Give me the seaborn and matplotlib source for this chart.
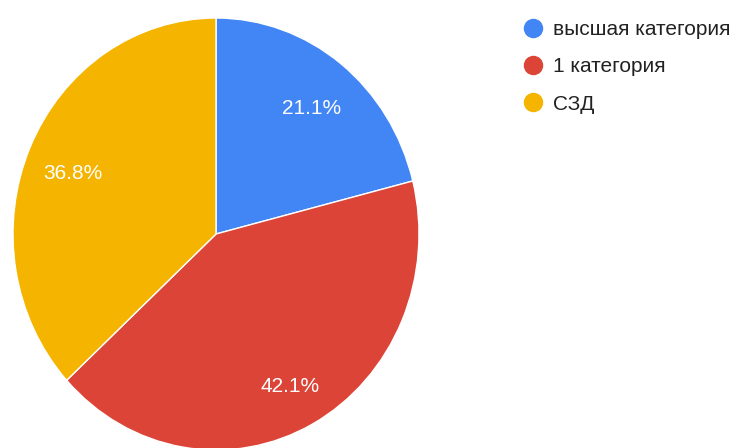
import matplotlib
matplotlib.use("Agg")
import matplotlib.pyplot as plt
from matplotlib.lines import Line2D
import seaborn as sns

# data
categories = ["высшая категория", "1 категория", "СЗД"]
counts = [4, 8, 7]
colors = ["#4285F4", "#DB4437", "#F4B400"]

sns.set_theme(style="white")
plt.rcParams["font.family"] = ["Liberation Sans", "DejaVu Sans"]

fig = plt.figure(figsize=(7.41, 4.48), dpi=100)
W, H = 741, 448
# pie is slightly stretched vertically in the reference
cx, cy, rx, ry = 216, 234, 203, 216
ax = fig.add_axes([(cx - rx) / W, (H - cy - ry) / H, 2 * rx / W, 2 * ry / H])

wedges, texts, autotexts = ax.pie(
    counts,
    colors=colors,
    startangle=90,
    counterclock=False,
    autopct="%1.1f%%",
    pctdistance=0.77,
    wedgeprops=dict(edgecolor="white", linewidth=1),
    textprops=dict(color="white", fontsize=15),
)
ax.set_aspect("auto")
ax.set_xlim(-1, 1)
ax.set_ylim(-1, 1)
for w in wedges:
    w.set_clip_on(False)
# labels sit a little lower in the reference
for t in autotexts:
    x, y = t.get_position()
    t.set_position((x, y - 6 / ry))

handles = [Line2D([0], [0], marker="o", linestyle="", markersize=13,
                  markerfacecolor=c, markeredgecolor=c) for c in colors]
fig.legend(handles, categories, loc="upper left",
           bbox_to_anchor=(520 / W, 1 - 20 / H), frameon=False,
           fontsize=15, handletextpad=0.38, labelspacing=0.88,
           handlelength=1.2, borderaxespad=0, borderpad=0,
           labelcolor="#222222")

fig.savefig("out.png", dpi=100)
